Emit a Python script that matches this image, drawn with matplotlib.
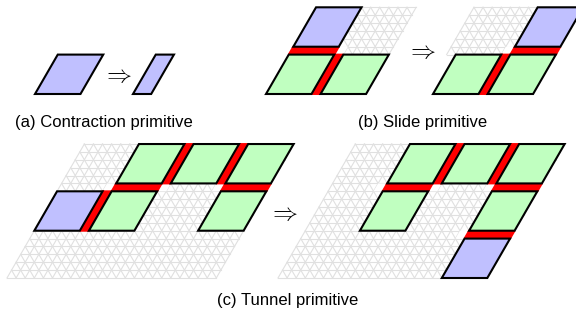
import numpy as np
import matplotlib.pyplot as plt
from matplotlib.patches import Polygon

plt.rcParams['mathtext.fontset'] = 'cm'

S = 9.1                      # lattice unit in pixels
H = S * np.sqrt(3) / 2
BLUE = '#c0c0ff'
GREEN = '#c0ffc0'
RED = '#ff0000'
GRIDC = '#e0e0e0'

# (a) contraction: (a, b, width) in lattice units
contr_before = [(0, 0, 5)]
contr_after = [(0, 0, 2)]

# (b) slide primitive, module sites (a, b)
slide_l_green = [(0, 0), (6, 0)]
slide_l_blue = [(0, 6)]
slide_l_hbars = [(0, 5)]          # horizontal connectors (a, b)
slide_l_vbars = [(5, 0)]          # vertical connectors (a, b)
slide_l_grid = (5, 5, 6, 6)       # a0, b0, na, nb

slide_r_green = [(0, 0), (6, 0)]
slide_r_blue = [(6, 6)]
slide_r_hbars = [(6, 5)]
slide_r_vbars = [(5, 0)]
slide_r_grid = (-1, 5, 7, 6)

# (c) tunnel primitive
tun_l_green = [(6, 12), (12, 12), (18, 12), (6, 6), (18, 6)]
tun_l_blue = [(0, 6)]
tun_l_hbars = [(6, 11), (18, 11)]
tun_l_vbars = [(5, 6), (11, 12), (17, 12)]

tun_r_green = [(6, 12), (12, 12), (18, 12), (6, 6), (18, 6)]
tun_r_blue = [(18, 0)]
tun_r_hbars = [(6, 11), (18, 11), (18, 5)]
tun_r_vbars = [(11, 12), (17, 12)]
tun_grid = (0, 0, 23, 17)

captions = ['(a) Contraction primitive', '(b) Slide primitive', '(c) Tunnel primitive']


def pt(o, a, b):
    return (o[0] + a * S + b * S / 2, o[1] - b * H)


def rhomb(o, a, b, na, nb):
    return [pt(o, a, b), pt(o, a + na, b), pt(o, a + na, b + nb), pt(o, a, b + nb)]


def draw_grid(ax, o, g):
    a0, b0, na, nb = g
    segs = []
    for k in range(nb + 1):
        segs.append((pt(o, a0, b0 + k), pt(o, a0 + na, b0 + k)))
    for k in range(na + 1):
        segs.append((pt(o, a0 + k, b0), pt(o, a0 + k, b0 + nb)))
    for c in range(1, na + nb):
        lo = max(0, c - nb)
        hi = min(na, c)
        segs.append((pt(o, a0 + lo, b0 + c - lo), pt(o, a0 + hi, b0 + c - hi)))
    for p, q in segs:
        ax.plot([p[0], q[0]], [p[1], q[1]], color=GRIDC, lw=0.8, zorder=1)


def draw_panel(ax, o, green, blue, hbars, vbars, grid=None):
    if grid is not None:
        draw_grid(ax, o, grid)
    # blank the gap corners next to connectors
    for a, b in hbars:
        for da in (-1, 5):
            ax.add_patch(Polygon(rhomb(o, a + da, b, 1, 1), closed=True,
                                 fc='white', ec='none', zorder=2))
    for a, b in hbars:
        ax.add_patch(Polygon(rhomb(o, a, b, 5, 1), closed=True, fc=RED,
                             ec=RED, lw=1.4, zorder=3))
    for a, b in vbars:
        ax.add_patch(Polygon(rhomb(o, a, b, 1, 5), closed=True, fc=RED,
                             ec=RED, lw=1.4, zorder=3))
    for cells, col in ((green, GREEN), (blue, BLUE)):
        for a, b in cells:
            ax.add_patch(Polygon(rhomb(o, a, b, 5, 5), closed=True, fc=col,
                                 ec='black', lw=1.5, joinstyle='miter', zorder=4))


fig = plt.figure(figsize=(5.76, 3.13), dpi=100)
ax = fig.add_axes([0, 0, 1, 1])
ax.set_xlim(0, 576)
ax.set_ylim(313, 0)
ax.axis('off')

# (a)
for o, cells in (((35, 94), contr_before), ((133, 94), contr_after)):
    for a, b, w in cells:
        ax.add_patch(Polygon(rhomb(o, a, b, w, 5), closed=True, fc=BLUE,
                             ec='black', lw=1.5, joinstyle='miter', zorder=4))

# (b)
draw_panel(ax, (266, 94), slide_l_green, slide_l_blue, slide_l_hbars, slide_l_vbars, slide_l_grid)
draw_panel(ax, (433, 94), slide_r_green, slide_r_blue, slide_r_hbars, slide_r_vbars, slide_r_grid)

# (c)
draw_panel(ax, (7, 278), tun_l_green, tun_l_blue, tun_l_hbars, tun_l_vbars, tun_grid)
draw_panel(ax, (278, 278), tun_r_green, tun_r_blue, tun_r_hbars, tun_r_vbars, tun_grid)

for x, y in ((117, 75), (421, 51), (283, 213)):
    ax.text(x, y, r'$\Rightarrow$', fontsize=18, ha='center', va='center', zorder=6)

for (x, y), t in zip(((104, 122), (423, 122), (288, 301)), captions):
    ax.text(x, y, t, fontsize=12, family='Liberation Sans', ha='center', va='center')

fig.savefig('out.png', dpi=100)
